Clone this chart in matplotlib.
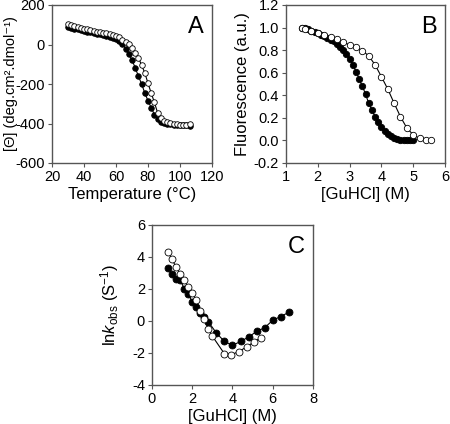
import matplotlib
matplotlib.use("Agg")
import matplotlib.pyplot as plt

plt.rcParams['font.family'] = ['Liberation Sans', 'DejaVu Sans']
plt.rcParams['mathtext.fontset'] = 'custom'
plt.rcParams['mathtext.rm'] = 'Liberation Sans'
plt.rcParams['mathtext.it'] = 'Liberation Sans:italic'
plt.rcParams['mathtext.bf'] = 'Liberation Sans:bold'
plt.rcParams['axes.unicode_minus'] = False

# Panel A: thermal denaturation (CD)
temp = [30, 32, 34, 36, 38, 40, 42, 44, 46, 48, 50, 52, 54, 56, 58, 60, 62, 64, 66, 68,
        70, 72, 74, 76, 78, 80, 82, 84, 86, 88, 90, 92, 94, 96, 98, 100, 102, 104, 106]
cd_open = [103, 98, 93, 89, 85, 81, 77, 73, 69, 65, 62, 60, 57, 53, 49, 45, 38, 25, 14, 2,
           -20, -42, -68, -104, -144, -196, -246, -293, -346, -372, -385, -393, -398, -402,
           -404, -406, -408, -408, -402]
cd_filled = [88, 84, 80, 76, 72, 68, 65, 62, 58, 55, 51, 48, 44, 40, 35, 28, 18, 5, -22, -48,
             -78, -118, -160, -200, -245, -285, -320, -355, -378, -390, -397, -401, -404,
             -406, -407, -408, -409, -410, -412]

# Panel B: chemical denaturation (fluorescence)
gu_open = [1.5, 1.6, 1.8, 2.0, 2.2, 2.4, 2.6, 2.8, 3.0, 3.2, 3.4, 3.6, 3.8, 4.0, 4.2, 4.4,
           4.6, 4.8, 5.0, 5.2, 5.4, 5.55]
fl_open = [1.0, 0.99, 0.97, 0.95, 0.935, 0.915, 0.895, 0.872, 0.846, 0.825, 0.795, 0.75,
           0.67, 0.565, 0.455, 0.33, 0.21, 0.11, 0.05, 0.018, 0.006, 0.0]
gu_filled = [1.5, 1.6, 1.7, 1.8, 1.9, 2.0, 2.1, 2.2, 2.3, 2.4, 2.5, 2.6, 2.7, 2.8, 2.9, 3.0,
             3.1, 3.2, 3.3, 3.4, 3.5, 3.6, 3.7, 3.8, 3.9, 4.0, 4.1, 4.2, 4.3, 4.4, 4.5, 4.6,
             4.7, 4.8, 4.9, 5.0]
fl_filled = [1.0, 0.992, 0.983, 0.972, 0.96, 0.948, 0.935, 0.922, 0.908, 0.893, 0.877, 0.855,
             0.83, 0.8, 0.765, 0.722, 0.672, 0.61, 0.545, 0.48, 0.412, 0.33, 0.268, 0.211,
             0.163, 0.118, 0.082, 0.055, 0.035, 0.022, 0.013, 0.008, 0.004, 0.002, 0.001, 0.0]

# Panel C: chevron plot
gu_c_open = [0.8, 1.0, 1.2, 1.4, 1.6, 1.8, 2.0, 2.2, 2.4, 2.6, 2.8, 3.0, 3.6, 3.95, 4.3,
             4.7, 5.05, 5.4]
lnk_open = [4.3, 3.85, 3.35, 2.95, 2.55, 2.1, 1.75, 1.3, 0.6, 0.15, -0.47, -0.95, -2.05,
            -2.1, -1.92, -1.62, -1.32, -1.05]
gu_c_filled = [0.8, 1.0, 1.2, 1.4, 1.6, 1.8, 2.0, 2.2, 2.4, 2.6, 2.8, 3.2, 3.6, 4.0, 4.4,
               4.8, 5.2, 5.6, 6.0, 6.4, 6.8]
lnk_filled = [3.3, 2.95, 2.6, 2.58, 2.02, 1.7, 1.2, 0.9, 0.48, 0.22, -0.05, -0.75, -1.28,
              -1.52, -1.28, -1.0, -0.65, -0.42, 0.05, 0.28, 0.55]

W, H = 450, 424
fig = plt.figure(figsize=(W / 100, H / 100), dpi=100)


def make_ax(x0, x1, y0, y1):
    ax = fig.add_axes([x0 / W, 1 - y1 / H, (x1 - x0) / W, (y1 - y0) / H])
    for s in ax.spines.values():
        s.set_color('#555555')
        s.set_linewidth(1.0)
    ax.tick_params(direction='out', length=3, width=0.8, color='#555555',
                   labelsize=10.5, pad=2)
    return ax


def series(ax, x, y, filled, ms, lw=0.8):
    ax.plot(x, y, '-', color='black', lw=lw, zorder=2)
    if filled:
        ax.plot(x, y, 'o', ms=ms, mfc='black', mec='black', mew=0.6, zorder=3)
    else:
        ax.plot(x, y, 'o', ms=ms, mfc='white', mec='black', mew=0.6, zorder=4)


# A
axA = make_ax(52, 212, 5, 163)
series(axA, temp, cd_filled, True, 4.0)
series(axA, temp, cd_open, False, 4.0)
axA.set_xlim(20, 120)
axA.set_ylim(-600, 200)
axA.set_xticks([20, 40, 60, 80, 100, 120])
axA.set_yticks([-600, -400, -200, 0, 200])
axA.set_xlabel('Temperature (°C)', fontsize=12, labelpad=2)
axA.set_ylabel('[Θ] (deg.cm².dmol⁻¹)', fontsize=10.5, labelpad=0,
               family=['Liberation Sans', 'DejaVu Sans'])
axA.yaxis.set_label_coords(-0.21, 0.5)
axA.text(0.95, 0.93, 'A', transform=axA.transAxes, ha='right', va='top', fontsize=17)

# B
axB = make_ax(286, 445, 5, 163)
series(axB, gu_filled, fl_filled, True, 4.6)
series(axB, gu_open, fl_open, False, 4.6)
axB.set_xlim(1, 6)
axB.set_ylim(-0.2, 1.2)
axB.set_xticks([1, 2, 3, 4, 5, 6])
axB.set_yticks([-0.2, 0.0, 0.2, 0.4, 0.6, 0.8, 1.0, 1.2])
axB.set_yticklabels(['-0.2', '0.0', '0.2', '0.4', '0.6', '0.8', '1.0', '1.2'])
axB.set_xlabel('[GuHCl] (M)', fontsize=12, labelpad=2)
axB.set_ylabel('Fluorescence (a.u.)', fontsize=12, labelpad=3)
axB.text(0.95, 0.93, 'B', transform=axB.transAxes, ha='right', va='top', fontsize=17)

# C
axC = make_ax(152, 313, 225, 385)
series(axC, gu_c_filled, lnk_filled, True, 5.0)
series(axC, gu_c_open, lnk_open, False, 5.0)
axC.set_xlim(0, 8)
axC.set_ylim(-4, 6)
axC.set_xticks([0, 2, 4, 6, 8])
axC.set_yticks([-4, -2, 0, 2, 4, 6])
axC.set_xlabel('[GuHCl] (M)', fontsize=12, labelpad=2)
axC.set_ylabel(r'ln$k_{\rm obs}$ (S$^{-1}$)', fontsize=12, labelpad=8)
axC.text(0.95, 0.93, 'C', transform=axC.transAxes, ha='right', va='top', fontsize=17)

fig.savefig('out.png', dpi=100)
